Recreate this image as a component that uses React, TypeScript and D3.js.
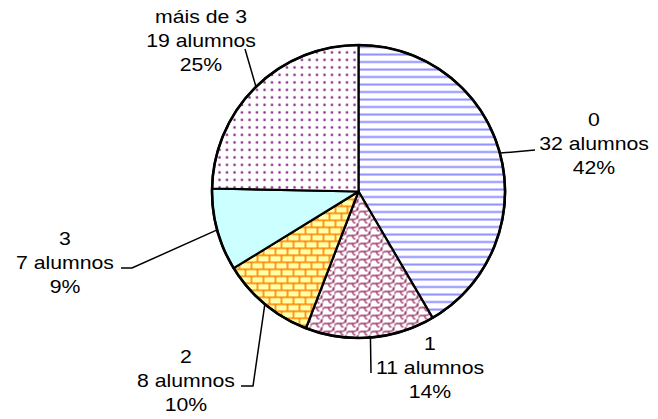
import React from "react";
import * as d3 from "d3";

const categories = ["0", "1", "2", "3", "máis de 3"];
const counts = [32, 11, 8, 7, 19];
const percents = ["42%", "14%", "10%", "9%", "25%"];
const countUnit = "alumnos";

// layout (label placement, like manually positioned Excel data labels)
const W = 658, H = 419;
const CX = 358.5, CY = 191.5, R = 146.5;
const labelCenters: [number, number][] = [
  [594, 126],
  [430, 350],
  [186, 363],
  [65, 245],
  [201, 23],
];
const labelElbows: [number, number][][] = [
  [[535, 150]],
  [[371, 373]],
  [[253, 386], [241, 386]],
  [[132, 268], [121, 268]],
  [[245, 49]],
];
const fills = ["url(#pHoriz)", "url(#pShingle)", "url(#pBrick)", "#ccffff", "url(#pDots)"];

export default function App() {
  const pie = d3.pie<number>().sort(null).value((d) => d);
  const arcs = pie(counts);
  const arc = d3.arc<d3.PieArcDatum<number>>().innerRadius(0).outerRadius(R);
  const font = "'Liberation Sans', Arial, sans-serif";

  return (
    <svg width={W} height={H} style={{ position: "absolute", left: 0, top: 0, background: "#fff" }}>
      <defs>
        <pattern id="pHoriz" patternUnits="userSpaceOnUse" width="8" height="7.5" x={0} y={CY}>
          <rect width="8" height="7.5" fill="#fff" />
          <line x1="0" x2="8" y1="1.5" y2="1.5" stroke="#8f8fff" strokeWidth="2" />
        </pattern>
        <pattern id="pShingle" patternUnits="userSpaceOnUse" width="12" height="8">
          <rect width="12" height="8" fill="#fff" />
          <path d="M0,7 C0,4.5 1.5,4 3.5,4 L7,4 C9.5,4 11,3 11,0 M6,4 C6,6 7,7.5 9,8 M0,0 L0,0.5 M11,8 L12,8"
            fill="none" stroke="#993366" strokeWidth="1.3" />
          <path d="M11,0 C11,1.5 11.5,2.5 12,3" fill="none" stroke="#993366" strokeWidth="1.3" />
        </pattern>
        <pattern id="pBrick" patternUnits="userSpaceOnUse" width="12" height="14">
          <rect width="12" height="14" fill="#ffffa8" />
          <line x1="0" x2="12" y1="0.75" y2="0.75" stroke="#ff8000" strokeWidth="1.6" />
          <line x1="0" x2="12" y1="7.75" y2="7.75" stroke="#ff8000" strokeWidth="1.6" />
          <line x1="1" x2="1" y1="0" y2="7" stroke="#ff8000" strokeWidth="1.6" />
          <line x1="7" x2="7" y1="7" y2="14" stroke="#ff8000" strokeWidth="1.6" />
        </pattern>
        <pattern id="pDots" patternUnits="userSpaceOnUse" width="7.5" height="7.5">
          <rect width="7.5" height="7.5" fill="#fff" />
          <circle cx="3.5" cy="3.5" r="1.3" fill="#8a2a8a" />
        </pattern>
      </defs>
      <g transform={`translate(${CX},${CY})`}>
        {arcs.map((a, i) => (
          <path key={i} d={arc(a) || ""} fill={fills[i]} stroke="#000" strokeWidth={2.2} strokeLinejoin="round" />
        ))}
        <circle r={R} fill="none" stroke="#000" strokeWidth={2.6} />
      </g>
      {arcs.map((a, i) => {
        const mid = (a.startAngle + a.endAngle) / 2;
        const ax = CX + R * Math.sin(mid);
        const ay = CY - R * Math.cos(mid);
        const pts = [[ax, ay], ...labelElbows[i]];
        return (
          <polyline key={"l" + i} points={pts.map((p) => p.join(",")).join(" ")} fill="none" stroke="#000" strokeWidth={1.5} />
        );
      })}
      {categories.map((c, i) => {
        const [lx, ly] = labelCenters[i];
        const lines = [c, `${counts[i]} ${countUnit}`, percents[i]];
        return (
          <g key={"t" + i} transform={`translate(${lx},${ly}) scale(1.18,1)`}>
            {lines.map((t, j) => (
              <text key={j} x={0} y={j * 24} textAnchor="middle" fontFamily={font} fontSize={18} fill="#000">
                {t}
              </text>
            ))}
          </g>
        );
      })}
    </svg>
  );
}
